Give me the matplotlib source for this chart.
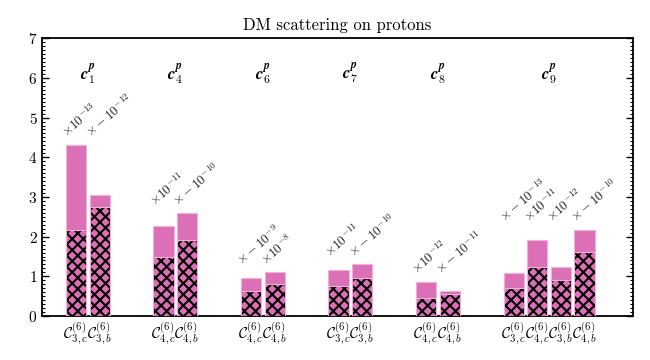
import numpy as np
import matplotlib
matplotlib.use("Agg")
import matplotlib.pyplot as plt
from matplotlib.ticker import MultipleLocator

plt.rcParams["font.family"] = "serif"
plt.rcParams["font.serif"] = ["cmr10"]
plt.rcParams["mathtext.fontset"] = "cm"
plt.rcParams["axes.formatter.use_mathtext"] = True
plt.rcParams["hatch.linewidth"] = 1.5

# coefficient groups
groups = [r"$\mathbfit{c}^{\mathbfit{p}}_{\mathbf{%s}}$" % k for k in ["1", "4", "6", "7", "8", "9"]]

# operators per group (tick labels)
ops = [
    [r"$\mathcal{C}^{(6)}_{3,c}$", r"$\mathcal{C}^{(6)}_{3,b}$"],
    [r"$\mathcal{C}^{(6)}_{4,c}$", r"$\mathcal{C}^{(6)}_{4,b}$"],
    [r"$\mathcal{C}^{(6)}_{4,c}$", r"$\mathcal{C}^{(6)}_{4,b}$"],
    [r"$\mathcal{C}^{(6)}_{3,c}$", r"$\mathcal{C}^{(6)}_{3,b}$"],
    [r"$\mathcal{C}^{(6)}_{4,c}$", r"$\mathcal{C}^{(6)}_{4,b}$"],
    [r"$\mathcal{C}^{(6)}_{3,c}$", r"$\mathcal{C}^{(6)}_{4,c}$",
     r"$\mathcal{C}^{(6)}_{3,b}$", r"$\mathcal{C}^{(6)}_{4,b}$"],
]

# total bar heights
totals = [
    [4.31, 3.04],
    [2.28, 2.59],
    [0.97, 1.10],
    [1.16, 1.31],
    [0.87, 0.62],
    [1.08, 1.91, 1.23, 2.17],
]

# hatched (lower) part
hatched = [
    [2.17, 2.74],
    [1.49, 1.91],
    [0.63, 0.81],
    [0.76, 0.97],
    [0.45, 0.56],
    [0.71, 1.24, 0.91, 1.62],
]

# scale factors written above the bars
scales = [
    [r"$\times 10^{-13}$", r"$\times -10^{-12}$"],
    [r"$\times 10^{-11}$", r"$\times -10^{-10}$"],
    [r"$\times -10^{-9}$", r"$\times 10^{-8}$"],
    [r"$\times 10^{-11}$", r"$\times -10^{-10}$"],
    [r"$\times 10^{-12}$", r"$\times -10^{-11}$"],
    [r"$\times -10^{-13}$", r"$\times 10^{-11}$", r"$\times 10^{-12}$", r"$\times -10^{-10}$"],
]

PINK = "#dc70b6"
EDGE = "#f2b0da"
PITCH = 0.27
WIDTH = 0.23

fig = plt.figure(figsize=(6.5, 3.6), dpi=100)
ax = fig.add_axes([0.065, 0.122, 0.909, 0.772])

tick_pos = []
tick_lab = []
for g in range(len(groups)):
    n = len(totals[g])
    xs = g + (np.arange(n) - 0.5) * PITCH
    top = max(totals[g])
    for j in range(n):
        x = xs[j]
        ax.bar(x, totals[g][j], width=WIDTH, color=PINK, edgecolor=EDGE, linewidth=0.8, zorder=2)
        ax.bar(x, hatched[g][j], width=WIDTH, color=PINK, edgecolor="black",
               hatch="xxx", linewidth=0, zorder=3)
        ax.bar(x, hatched[g][j], width=WIDTH, fill=False, edgecolor=EDGE, linewidth=0.8, zorder=4)
        ax.text(x - 0.08, top + 0.12, scales[g][j], rotation=40, rotation_mode="anchor",
                ha="left", va="bottom", fontsize=9.5, color="#222222")
        tick_pos.append(x)
        tick_lab.append(ops[g][j])
    ax.text(g + (n / 2 - 1) * PITCH, 6.1, groups[g], ha="center", va="center", fontsize=12)

ax.set_xticks(tick_pos)
ax.set_xticklabels(tick_lab, fontsize=11)
ax.tick_params(axis="x", length=0, pad=3)
ax.set_xlim(-0.52, 6.23)
ax.set_ylim(0, 7)
ax.yaxis.set_major_locator(MultipleLocator(1))
ax.yaxis.set_minor_locator(MultipleLocator(0.1))
ax.tick_params(axis="y", which="both", direction="in", right=True, labelsize=11)
ax.tick_params(axis="y", which="major", length=5, width=1)
ax.tick_params(axis="y", which="minor", length=2.5, width=0.8)
for s in ax.spines.values():
    s.set_linewidth(1.3)
ax.set_title("DM scattering on protons", fontsize=12)

fig.savefig("out.png", dpi=100)
